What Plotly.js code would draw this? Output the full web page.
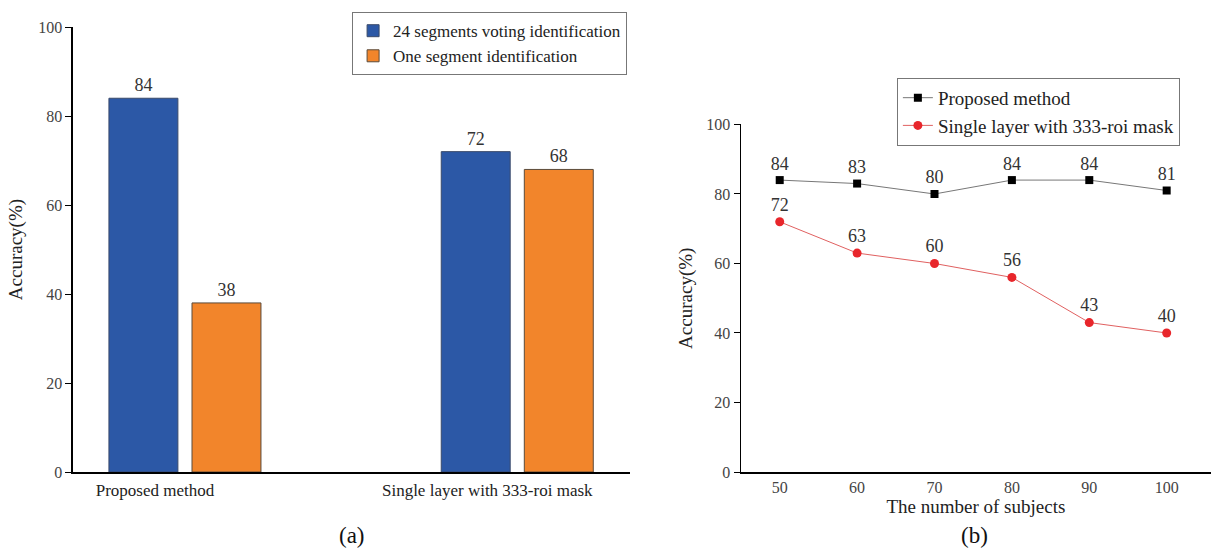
<!DOCTYPE html>
<html>
<head>
<meta charset="utf-8">
<script src="https://cdn.plot.ly/plotly-3.0.1.min.js"></script>
<style>html,body{margin:0;padding:0;background:#fff;}#chart{width:1212px;height:552px;}</style>
</head>
<body>
<div id="chart"></div>
<script>
// Panel (a)
const methods = ["Proposed method", "Single layer with 333-roi mask"];
const votingAcc = [84, 72];
const oneSegAcc = [38, 68];
// Panel (b)
const subjects = [50, 60, 70, 80, 90, 100];
const proposedAcc = [84, 83, 80, 84, 84, 81];
const singleLayerAcc = [72, 63, 60, 56, 43, 40];
const yTicks = [0, 20, 40, 60, 80, 100];

const serif = "Liberation Serif, Times New Roman, serif";

const traces = [
  {type: "bar", x: methods, y: votingAcc, name: "24 segments voting identification",
   xaxis: "x", yaxis: "y", legend: "legend",
   marker: {color: "#2c58a6", line: {color: "#3a4a6a", width: 1}},
   text: votingAcc.map(String), textposition: "outside", cliponaxis: false,
   textfont: {family: serif, size: 18, color: "#333"}},
  {type: "bar", x: methods, y: oneSegAcc, name: "One segment identification",
   xaxis: "x", yaxis: "y", legend: "legend",
   marker: {color: "#f2852b", line: {color: "#5a4a3a", width: 1}},
   text: oneSegAcc.map(String), textposition: "outside", cliponaxis: false,
   textfont: {family: serif, size: 18, color: "#333"}},
  {type: "scatter", mode: "lines+markers+text", x: subjects, y: proposedAcc, name: "Proposed method",
   xaxis: "x2", yaxis: "y2", legend: "legend2",
   line: {color: "#777", width: 1}, marker: {symbol: "square", size: 8, color: "#000"},
   text: proposedAcc.map(String), textposition: "top center", cliponaxis: false,
   textfont: {family: serif, size: 18, color: "#333"}},
  {type: "scatter", mode: "lines+markers+text", x: subjects, y: singleLayerAcc, name: "Single layer with 333-roi mask",
   xaxis: "x2", yaxis: "y2", legend: "legend2",
   line: {color: "#e06060", width: 1}, marker: {symbol: "circle", size: 9, color: "#e8262b"},
   text: singleLayerAcc.map(String), textposition: "top center", cliponaxis: false,
   textfont: {family: serif, size: 18, color: "#333"}}
];

const axisCommon = {
  showgrid: false, zeroline: false, showline: true, linecolor: "#000", linewidth: 1.5,
  tickfont: {family: serif, size: 16, color: "#444"}
};

const layout = {
  width: 1212, height: 552,
  margin: {l: 0, r: 0, t: 0, b: 0},
  paper_bgcolor: "#fff", plot_bgcolor: "#fff",
  font: {family: serif, color: "#222"},
  barmode: "group", bargap: 0.5, bargroupgap: 0.17,
  showlegend: true,
  xaxis: Object.assign({}, axisCommon, {domain: [0.0602, 0.52], anchor: "y",
    range: [-0.337, 1.34], ticks: "", ticklabelshift: -30, ticklabelstandoff: 2,
    tickfont: {family: serif, size: 17, color: "#222"}}),
  yaxis: Object.assign({}, axisCommon, {domain: [0.1449, 0.951], anchor: "x",
    range: [0, 100], tickvals: yTicks, ticks: "outside", ticklen: 6, tickcolor: "#000",
    title: {text: "Accuracy(%)", font: {family: serif, size: 19, color: "#222"}, standoff: 10}}),
  xaxis2: Object.assign({}, axisCommon, {domain: [0.6114, 0.999], anchor: "y2",
    range: [45, 105.7], tickvals: subjects, ticks: "",
    title: {text: "The number of subjects", font: {family: serif, size: 19, color: "#222"}, standoff: 0}}),
  yaxis2: Object.assign({}, axisCommon, {domain: [0.1449, 0.7745], anchor: "x2",
    range: [0, 100], tickvals: yTicks, ticks: "outside", ticklen: 6, tickcolor: "#000",
    title: {text: "Accuracy(%)", font: {family: serif, size: 19, color: "#222"}, standoff: 8}}),
  legend: {x: 0.2905, y: 0.978, xanchor: "left", yanchor: "top",
    bordercolor: "#777", borderwidth: 1, bgcolor: "#fff",
    font: {family: serif, size: 17, color: "#222"}, tracegroupgap: 4},
  legend2: {x: 0.740, y: 0.859, xanchor: "left", yanchor: "top",
    bordercolor: "#777", borderwidth: 1, bgcolor: "#fff",
    font: {family: serif, size: 19, color: "#222"}, tracegroupgap: 0},
  annotations: [
    {text: "(a)", xref: "paper", yref: "paper", x: 337/1212, y: 1 - 535/552, yanchor: "middle", showarrow: false,
     font: {family: serif, size: 23, color: "#111"}},
    {text: "(b)", xref: "paper", yref: "paper", x: 990/1212, y: 1 - 535/552, yanchor: "middle", showarrow: false,
     font: {family: serif, size: 23, color: "#111"}}
  ]
};

Plotly.newPlot("chart", traces, layout, {displayModeBar: false, staticPlot: true});
</script>
</body>
</html>
